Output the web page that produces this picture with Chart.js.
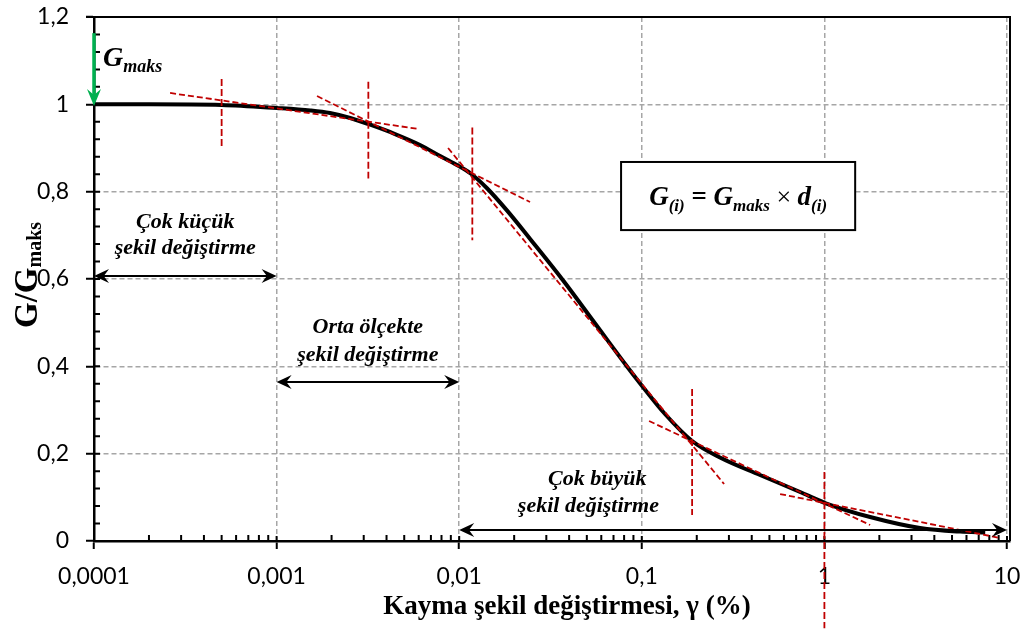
<!DOCTYPE html>
<html><head><meta charset="utf-8">
<script src="https://cdn.jsdelivr.net/npm/chart.js@4.4.0/dist/chart.umd.min.js"></script>
<style>html,body{margin:0;padding:0;background:#fff;}#wrap{width:1025px;height:630px;position:relative;}</style>
</head><body><div id="wrap"><canvas id="c" width="1025" height="630"></canvas></div>
<script>
// ---- data ----
const xTickValues = [0.0001, 0.001, 0.01, 0.1, 1, 10];
const xTickLabels = ['0,0001', '0,001', '0,01', '0,1', '1', '10'];
const yTickValues = [0, 0.2, 0.4, 0.6, 0.8, 1, 1.2];
const yTickLabels = ['0', '0,2', '0,4', '0,6', '0,8', '1', '1,2'];

// G/Gmaks curve (shear strain %, modulus ratio)
const strainPct = [0.0001, 0.0002, 0.0005, 0.001, 0.00153, 0.00196, 0.00253, 0.00317, 0.00445, 0.0061, 0.00786, 0.00949, 0.0116, 0.0142, 0.0183, 0.0244, 0.0371, 0.0555, 0.083, 0.1004, 0.134, 0.1886, 0.268, 0.444, 0.736, 1.009, 1.78, 3.34, 5.54, 7.6];
const modulusRatio = [1.0, 1.0, 0.9985, 0.9916, 0.9859, 0.9801, 0.9687, 0.955, 0.932, 0.9069, 0.8817, 0.8634, 0.8410, 0.8079, 0.7566, 0.6923, 0.5966, 0.4981, 0.3996, 0.3550, 0.2908, 0.2290, 0.1912, 0.1511, 0.1122, 0.087, 0.055, 0.0298, 0.0215, 0.0195];

// red dashed tangent / chord lines
const tangentX1 = [0.000261, 0.001665, 0.00869, 0.1096, 0.572];
const tangentY1 = [1.026, 1.019, 0.900, 0.2748, 0.1076];
const tangentX2 = [0.00603, 0.02443, 0.2823, 1.780, 9.17];
const tangentY2 = [0.9435, 0.7763, 0.1305, 0.0366, 0.0069];

// red dashed vertical markers
const markerX = [0.0005, 0.00318, 0.0118, 0.1886, 1];
const markerTop = [1.058, 1.052, 0.947, 0.348, 0.158];
const markerBottom = [0.898, 0.830, 0.689, 0.0595, -0.2];

// strain range annotations
const rangeStart = [0.0001, 0.001, 0.01];
const rangeEnd = [0.001, 0.01, 10];
const rangeLevel = [0.607, 0.364, 0.025];
const rangeLine1 = ['Çok küçük', 'Orta ölçekte', 'Çok büyük'];
const rangeLine2 = ['şekil değiştirme', 'şekil değiştirme', 'şekil değiştirme'];
const rangeLabelX1 = [0.000316, 0.00316, 0.057];
const rangeLabelX2 = [0.000316, 0.00316, 0.051];
const rangeLabelY1 = [0.7305, 0.490, 0.142];
const rangeLabelY2 = [0.671, 0.426, 0.080];

// ---- build datasets ----
const datasets = [];
for (let i = 0; i < tangentX1.length; i++) {
  datasets.push({
    data: [{x: tangentX1[i], y: tangentY1[i]}, {x: tangentX2[i], y: tangentY2[i]}],
    borderColor: '#c00000', borderWidth: 1.8, borderDash: [6, 3], pointRadius: 0, showLine: true, order: 1
  });
}
for (let i = 0; i < markerX.length; i++) {
  datasets.push({
    data: [{x: markerX[i], y: markerTop[i]}, {x: markerX[i], y: markerBottom[i]}],
    borderColor: '#c00000', borderWidth: 1.8, borderDash: [7, 3], pointRadius: 0, showLine: true, order: 1,
    clip: false
  });
}
datasets.push({
  data: strainPct.map((v, i) => ({x: v, y: modulusRatio[i]})),
  borderColor: '#000000', borderWidth: 4, pointRadius: 0, showLine: true,
  cubicInterpolationMode: 'monotone', order: 10
});

const SERIF = '"Liberation Serif", "Times New Roman", serif';
const SANS = 'Lato, "Noto Sans", sans-serif';

function arrowHead(ctx, x, y, ang, len, half, color) {
  ctx.save();
  ctx.translate(x, y); ctx.rotate(ang);
  ctx.fillStyle = color;
  ctx.beginPath();
  ctx.moveTo(0, 0);
  ctx.lineTo(-len, -half);
  ctx.lineTo(-len * 0.65, 0);
  ctx.lineTo(-len, half);
  ctx.closePath();
  ctx.fill();
  ctx.restore();
}

function richText(ctx, parts, x, y, align) {
  let w = 0;
  parts.forEach(p => { ctx.font = p.font; p.w = ctx.measureText(p.t).width; w += p.w; });
  let cx = align === 'center' ? x - w / 2 : (align === 'right' ? x - w : x);
  ctx.textAlign = 'left';
  parts.forEach(p => { ctx.font = p.font; ctx.fillText(p.t, cx, y + (p.dy || 0)); cx += p.w; });
}

const decor = {
  id: 'decor',
  beforeDatasetsDraw(chart) {
    const {ctx, chartArea: a, scales: {x, y}} = chart;
    ctx.save();
    ctx.strokeStyle = '#000'; ctx.lineWidth = 2;
    ctx.beginPath();
    for (let d = 0.0001; d < 5; d *= 10) {
      for (let k = 2; k <= 9; k++) {
        const px = x.getPixelForValue(k * d);
        ctx.moveTo(px, a.bottom); ctx.lineTo(px, a.bottom - 6);
      }
    }
    xTickValues.forEach(v => { const px = x.getPixelForValue(v); ctx.moveTo(px, a.bottom); ctx.lineTo(px, a.bottom - 5); });
    for (let i = 0; i <= 30; i++) {
      const py = y.getPixelForValue(i * 0.04);
      ctx.moveTo(a.left, py); ctx.lineTo(a.left + 6, py);
    }
    ctx.stroke();
    ctx.lineWidth = 2;
    ctx.beginPath();
    ctx.moveTo(a.left - 8, a.top); ctx.lineTo(a.right, a.top); ctx.lineTo(a.right, a.bottom);
    ctx.stroke();
    ctx.restore();
  },
  afterDatasetsDraw(chart) {
    const {ctx, scales: {x, y}} = chart;
    ctx.save();
    ctx.fillStyle = '#000';
    ctx.textBaseline = 'middle';
    for (let i = 0; i < rangeStart.length; i++) {
      const x1 = x.getPixelForValue(rangeStart[i]), x2 = x.getPixelForValue(rangeEnd[i]);
      const py = y.getPixelForValue(rangeLevel[i]);
      ctx.strokeStyle = '#000'; ctx.lineWidth = 2;
      ctx.beginPath(); ctx.moveTo(x1 + 6, py); ctx.lineTo(x2 - 6, py); ctx.stroke();
      arrowHead(ctx, x1, py, Math.PI, 15, 7, '#000');
      arrowHead(ctx, x2, py, 0, 15, 7, '#000');
      ctx.font = 'bold italic 22px ' + SERIF;
      ctx.textAlign = 'center';
      ctx.fillText(rangeLine1[i], x.getPixelForValue(rangeLabelX1[i]), y.getPixelForValue(rangeLabelY1[i]));
      ctx.fillText(rangeLine2[i], x.getPixelForValue(rangeLabelX2[i]), y.getPixelForValue(rangeLabelY2[i]));
    }
    const gx = x.getPixelForValue(0.0001);
    const gTop = y.getPixelForValue(1.163), gTip = y.getPixelForValue(0.996);
    ctx.strokeStyle = '#00b050'; ctx.lineWidth = 3.5;
    ctx.beginPath(); ctx.moveTo(gx, gTop); ctx.lineTo(gx, gTip - 10); ctx.stroke();
    arrowHead(ctx, gx, gTip, Math.PI / 2, 17, 7, '#00b050');
    ctx.fillStyle = '#000';
    ctx.textBaseline = 'alphabetic';
    richText(ctx, [
      {t: 'G', font: 'bold italic 28px ' + SERIF},
      {t: 'maks', font: 'bold italic 18px ' + SERIF, dy: 6}
    ], x.getPixelForValue(0.000112), y.getPixelForValue(1.088), 'left');
    const bx1 = x.getPixelForValue(0.077), bx2 = x.getPixelForValue(1.474);
    const by1 = y.getPixelForValue(0.868), by2 = y.getPixelForValue(0.712);
    ctx.fillStyle = '#fff';
    ctx.fillRect(bx1, by1, bx2 - bx1, by2 - by1);
    ctx.strokeStyle = '#000'; ctx.lineWidth = 2;
    ctx.strokeRect(bx1, by1, bx2 - bx1, by2 - by1);
    ctx.fillStyle = '#000';
    const F = 'bold italic 27px ' + SERIF, S = 'bold italic 17px ' + SERIF;
    richText(ctx, [
      {t: 'G', font: F}, {t: '(i)', font: S, dy: 6},
      {t: ' = ', font: 'bold 27px ' + SERIF},
      {t: 'G', font: F}, {t: 'maks', font: S, dy: 6},
      {t: ' × ', font: '26px ' + SERIF},
      {t: 'd', font: F}, {t: '(i)', font: S, dy: 6}
    ], (bx1 + bx2) / 2, (by1 + by2) / 2 + 9, 'center');
    ctx.restore();
  },
  afterDraw(chart) {
    const {ctx} = chart;
    ctx.save();
    ctx.fillStyle = '#000';
    ctx.textBaseline = 'middle';
    ctx.font = 'bold 27px ' + SERIF;
    ctx.textAlign = 'center';
    ctx.fillText('Kayma şekil değiştirmesi, γ (%)', 567, 607);
    ctx.translate(37, 275);
    ctx.rotate(-Math.PI / 2);
    ctx.textBaseline = 'alphabetic';
    richText(ctx, [
      {t: 'G/G', font: 'bold 33px ' + SERIF},
      {t: 'maks', font: 'bold 20px ' + SERIF, dy: 4}
    ], 0, 0, 'center');
    ctx.restore();
  }
};

new Chart(document.getElementById('c'), {
  type: 'scatter',
  data: {datasets},
  options: {
    responsive: false, animation: false, devicePixelRatio: 1,
    layout: {padding: {top: 17, right: 15, left: 0, bottom: 0}},
    plugins: {legend: {display: false}, tooltip: {enabled: false}},
    scales: {
      x: {
        type: 'logarithmic', min: 0.0001, max: 10.386,
        afterBuildTicks: s => { s.ticks = xTickValues.map(v => ({value: v})); },
        afterFit: s => { s.height = 89; s.paddingLeft = 0; s.paddingRight = 0; },
        ticks: {
          autoSkip: false, maxRotation: 0, color: '#000', padding: 14,
          font: {family: SANS, size: 23},
          callback: (v, i) => xTickLabels[i]
        },
        grid: {color: '#a6a6a6', lineWidth: 1.5, tickLength: 8, tickColor: '#000', tickWidth: 2},
        border: {color: '#000', width: 2.5, dash: [5, 3]}
      },
      y: {
        type: 'linear', min: 0, max: 1.2,
        afterBuildTicks: s => { s.ticks = yTickValues.map(v => ({value: v})); },
        afterFit: s => { s.width = 94; s.paddingTop = 0; s.paddingBottom = 0; },
        ticks: {
          color: '#000', padding: 17,
          font: {family: SANS, size: 23},
          callback: (v, i) => yTickLabels[i]
        },
        grid: {color: '#a6a6a6', lineWidth: 1.5, tickLength: 8, tickColor: '#000', tickWidth: 2},
        border: {color: '#000', width: 2.5, dash: [5, 3]}
      }
    }
  },
  plugins: [decor]
});
</script></body></html>
